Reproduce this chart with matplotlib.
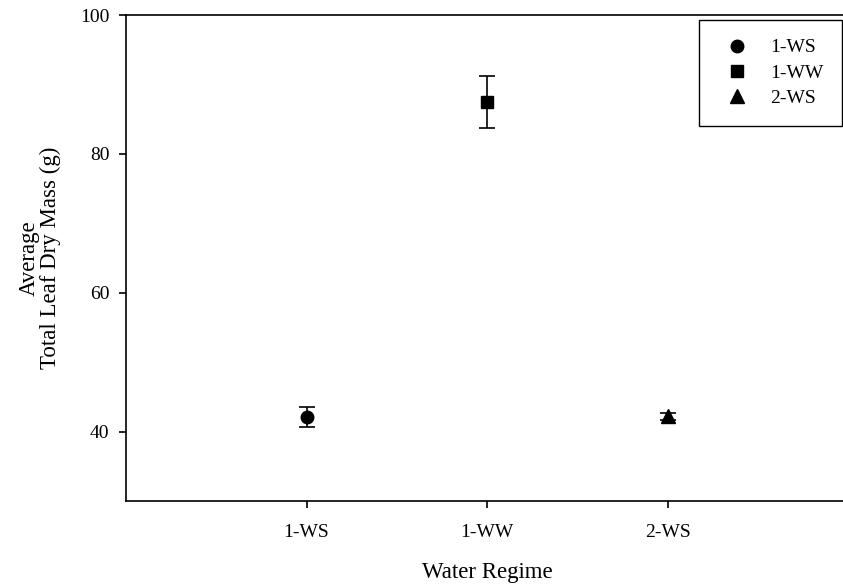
import numpy as np
import matplotlib.pyplot as plt
from matplotlib.lines import Line2D

# mean total leaf dry mass per water regime, with error bar half-widths
regimes = ['1-WS', '1-WW', '2-WS']
mean_mass = [42.1, 87.5, 42.2]
err_mass = [1.4, 3.75, 0.5]
markers = ['o', 's', '^']

plt.rcParams['font.family'] = ['Liberation Serif', 'DejaVu Serif']
plt.rcParams['font.size'] = 14

fig = plt.figure(figsize=(8.43, 5.87), dpi=100)
ax = fig.add_axes([126 / 843, 86 / 587, 722 / 843, 486 / 587])

xpos = np.arange(1, len(regimes) + 1)
handles = []
for x, m, e, mk, lab in zip(xpos, mean_mass, err_mass, markers, regimes):
    ms = 10 if mk == '^' else 9
    ax.errorbar(x, m, yerr=e, fmt=mk, color='black', ms=ms,
                capsize=5.5, elinewidth=1.2, capthick=1.2)
    handles.append(Line2D([], [], ls='none', marker=mk, color='black', ms=ms, label=lab))

ax.set_xlim(0, 4)
ax.set_ylim(30, 100)
ax.set_xticks(xpos)
ax.set_xticklabels(regimes)
ax.set_yticks([40, 60, 80, 100])
ax.spines['right'].set_visible(False)
for s in ['left', 'top', 'bottom']:
    ax.spines[s].set_linewidth(1.2)
ax.tick_params(direction='out', length=5, width=1.2, top=False, right=False)
ax.tick_params(axis='x', pad=11.5)
ax.tick_params(axis='y', pad=7)

ax.set_xlabel('Water Regime', fontsize=16.5, labelpad=15)
ax.set_ylabel('Average\nTotal Leaf Dry Mass (g)', fontsize=16.5, labelpad=14, linespacing=1.0)

leg = ax.legend(handles=handles, loc='upper right', bbox_to_anchor=(842 / 843, 1 - 20 / 587),
                bbox_transform=fig.transFigure, borderaxespad=0, numpoints=1,
                fancybox=False, edgecolor='black', framealpha=1,
                borderpad=0.97, labelspacing=0.4, handlelength=2.0, handletextpad=0.67)
leg.get_frame().set_linewidth(1.0)

fig.savefig('out.png', dpi=100)
